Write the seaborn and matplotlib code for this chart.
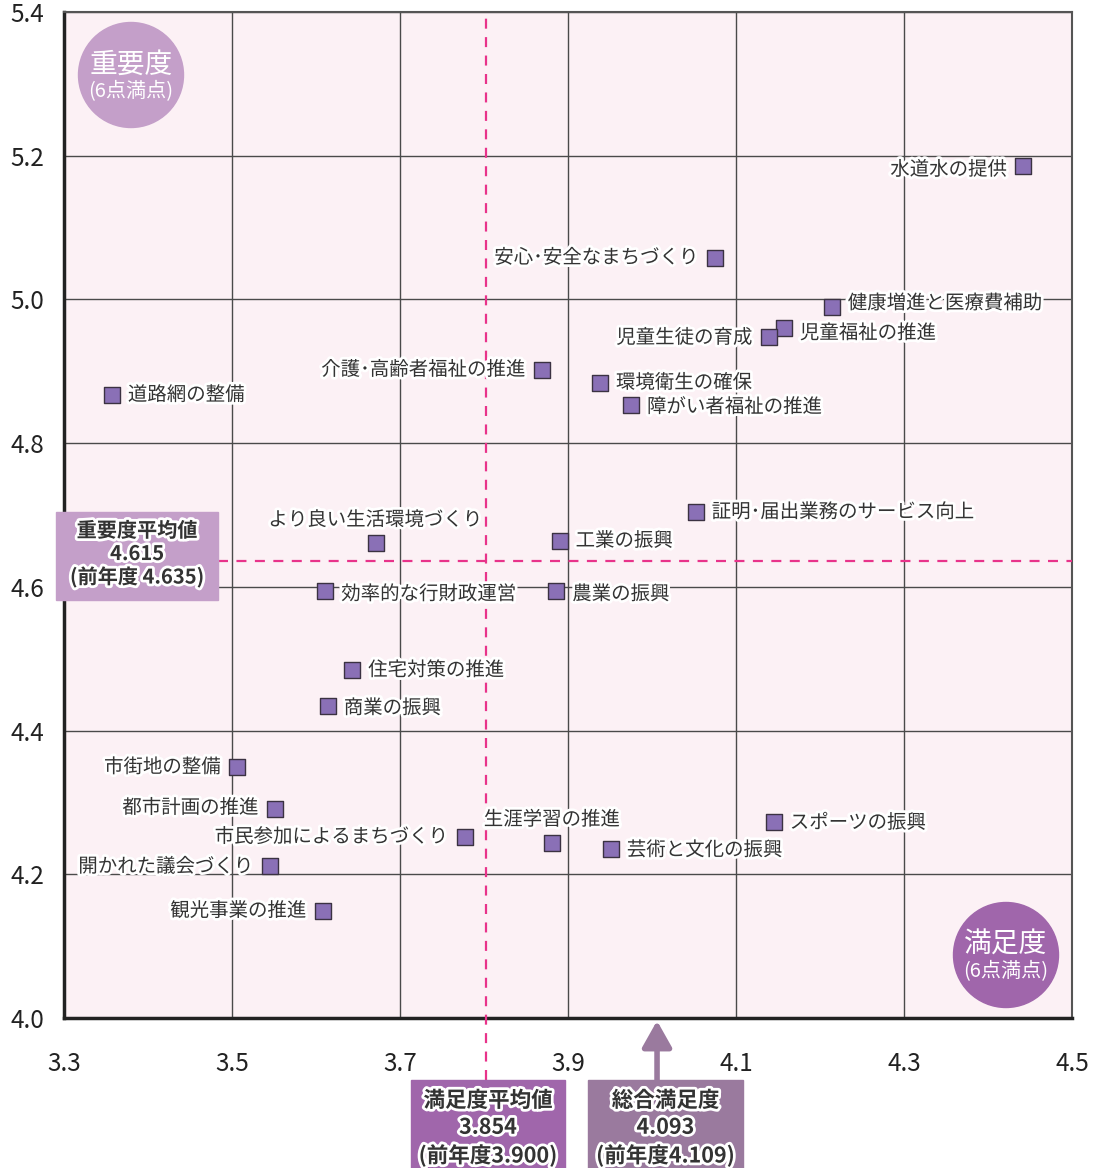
import matplotlib
matplotlib.use("Agg")
import matplotlib.pyplot as plt
import matplotlib.patheffects as pe
from matplotlib.patches import Ellipse, Rectangle
import seaborn as sns
import pandas as pd

# items: satisfaction (x) / importance (y)
items = ["水道水の提供", "安心･安全なまちづくり", "健康増進と医療費補助", "児童福祉の推進",
         "児童生徒の育成", "介護･高齢者福祉の推進", "環境衛生の確保", "障がい者福祉の推進",
         "道路網の整備", "証明･届出業務のサービス向上", "より良い生活環境づくり", "工業の振興",
         "効率的な行財政運営", "農業の振興", "住宅対策の推進", "商業の振興",
         "市街地の整備", "都市計画の推進", "市民参加によるまちづくり", "生涯学習の推進",
         "芸術と文化の振興", "スポーツの振興", "開かれた議会づくり", "観光事業の推進"]
satisfaction = [4.442, 4.075, 4.214, 4.157, 4.139, 3.869, 3.938, 3.975,
                3.357, 4.052, 3.671, 3.890, 3.611, 3.886, 3.643, 3.614,
                3.506, 3.551, 3.777, 3.881, 3.951, 4.145, 3.545, 3.608]
importance = [5.186, 5.058, 4.989, 4.960, 4.948, 4.902, 4.884, 4.853,
              4.867, 4.704, 4.661, 4.664, 4.594, 4.594, 4.484, 4.434,
              4.349, 4.291, 4.252, 4.244, 4.235, 4.273, 4.212, 4.149]

x_ticks = [3.3, 3.5, 3.7, 3.9, 4.1, 4.3, 4.5]
y_ticks = [4.0, 4.2, 4.4, 4.6, 4.8, 5.0, 5.2, 5.4]

# reference lines as drawn in the picture
avg_sat_line = 3.802
avg_imp_line = 4.636
overall_sat_arrow = 4.006

avg_imp_text = "重要度平均値\n4.615\n(前年度 4.635)"
avg_sat_text = "満足度平均値\n3.854\n(前年度3.900)"
overall_text = "総合満足度\n4.093\n(前年度4.109)"

# label placement: side and vertical nudge (pixels)
label_pos = {
    "水道水の提供": ("l", -4), "安心･安全なまちづくり": ("l", 0), "健康増進と医療費補助": ("r", 4),
    "児童福祉の推進": ("r", -5), "児童生徒の育成": ("l", -1), "介護･高齢者福祉の推進": ("l", 0),
    "環境衛生の確保": ("r", 0), "障がい者福祉の推進": ("r", -2), "道路網の整備": ("r", 0),
    "証明･届出業務のサービス向上": ("r", 0), "より良い生活環境づくり": ("t", 23), "工業の振興": ("r", 0),
    "効率的な行財政運営": ("r", -3), "農業の振興": ("r", -3), "住宅対策の推進": ("r", 0),
    "商業の振興": ("r", -2), "市街地の整備": ("l", 0), "都市計画の推進": ("l", 1),
    "市民参加によるまちづくり": ("l", 0), "生涯学習の推進": ("t", 23), "芸術と文化の振興": ("r", -1),
    "スポーツの振興": ("r", -1), "開かれた議会づくり": ("l", -1), "観光事業の推進": ("l", 0),
}

sns.set_style("white")
plt.rcParams['font.family'] = ['Noto Sans CJK JP', 'DejaVu Sans']

W, H = 1111, 1168
fig = plt.figure(figsize=(W / 100, H / 100), dpi=100)
ax = fig.add_axes([64 / W, 1 - 1018 / H, (1072 - 64) / W, (1018 - 12) / H])
ax.set_facecolor("#fcf1f5")

df = pd.DataFrame({"item": items, "sat": satisfaction, "imp": importance})
sns.scatterplot(data=df, x="sat", y="imp", ax=ax, marker="s", s=135,
                color="#8a70b6", edgecolor="#3b3242", linewidth=1.0, zorder=5)

ax.set_xlim(3.3, 4.5)
ax.set_ylim(4.0, 5.4)
ax.set_xticks(x_ticks)
ax.set_yticks(y_ticks)
ax.set_xticklabels([f"{v:.1f}" for v in x_ticks], fontsize=17.5, color="#222")
ax.set_yticklabels([f"{v:.1f}" for v in y_ticks], fontsize=17.5, color="#222")
ax.tick_params(axis="x", length=0, pad=24)
ax.tick_params(axis="y", length=0, pad=14)
ax.set_xlabel("")
ax.set_ylabel("")
ax.grid(True, color="#4a4a4a", linewidth=1.0)
ax.set_axisbelow(True)
for side in ["top", "right"]:
    ax.spines[side].set_color("#555555")
    ax.spines[side].set_linewidth(1.5)
for side in ["left", "bottom"]:
    ax.spines[side].set_color("#222222")
    ax.spines[side].set_linewidth(2.5)

halo = [pe.withStroke(linewidth=4, foreground="white")]
for name, x, y in zip(items, satisfaction, importance):
    side, dy = label_pos[name]
    if side == "l":
        off, ha = (-16, dy), "right"
    elif side == "r":
        off, ha = (16, dy), "left"
    else:
        off, ha = (0, dy), "center"
    ax.annotate(name, (x, y), xytext=off, textcoords="offset pixels",
                ha=ha, va="center", fontsize=14, color="#333333",
                path_effects=halo, zorder=6)

# average lines
pink = "#e8338a"
ax.axvline(avg_sat_line, ymin=-62 / 1006, ymax=1, color=pink, linewidth=1.6,
           dashes=(4.5, 3.8), clip_on=False, zorder=3)
ax.axhline(avg_imp_line, xmin=(218 - 64) / 1008, xmax=1, color=pink, linewidth=1.6,
           dashes=(4.5, 3.8), zorder=3)

# overall satisfaction arrow
ax.annotate("", xy=(overall_sat_arrow, 4.0), xytext=(overall_sat_arrow, 4.0 - 62 / 718.6),
            arrowprops=dict(arrowstyle="-|>,head_width=0.45,head_length=0.8",
                            mutation_scale=20, color="#9a7a9e", lw=4, shrinkA=0, shrinkB=2),
            annotation_clip=False)


def fig_box(x0, y0, x1, y1, color, text, size, spacing, top_pad):
    fig.add_artist(Rectangle((x0 / W, 1 - y1 / H), (x1 - x0) / W, (y1 - y0) / H,
                             transform=fig.transFigure, color=color, zorder=4))
    fig.text((x0 + x1) / 2 / W, 1 - (y0 + top_pad) / H, text, ha="center", va="top",
             fontsize=size, fontweight="bold", color="#333333", linespacing=spacing,
             path_effects=[pe.withStroke(linewidth=4, foreground="white")], zorder=5)


fig_box(56, 512, 218, 600, "#c49fc9", avg_imp_text, 14.5, 1.12, 8)
fig_box(411, 1080, 565, 1190, "#a066ab", avg_sat_text, 15.5, 1.34, 10)
fig_box(588, 1080, 743, 1190, "#9a7a9e", overall_text, 15.5, 1.34, 10)


def fig_circle(cx, cy, color, big, small):
    fig.add_artist(Ellipse((cx / W, 1 - cy / H), 105 / W, 105 / H,
                           transform=fig.transFigure, color=color, zorder=7))
    fig.text(cx / W, 1 - (cy - 10) / H, big, ha="center", va="center",
             fontsize=20, color="white", zorder=8)
    fig.text(cx / W, 1 - (cy + 17) / H, small, ha="center", va="center",
             fontsize=14.5, color="white", zorder=8)


fig_circle(131, 75, "#c49fc9", "重要度", "(6点満点)")
fig_circle(1006, 955, "#a066ab", "満足度", "(6点満点)")

fig.savefig("out.png", dpi=100)
